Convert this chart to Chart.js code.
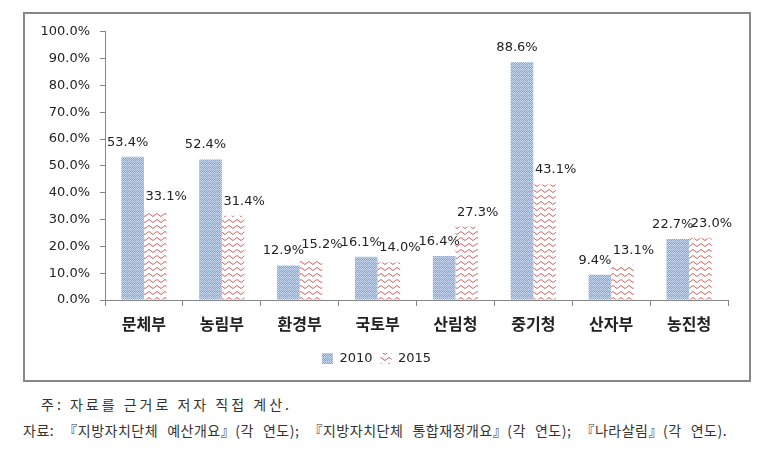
<!DOCTYPE html>
<html>
<head>
<meta charset="utf-8">
<script src="https://cdn.jsdelivr.net/npm/chart.js@4"></script>
<style>
body{margin:0;background:#fff;width:766px;height:456px;position:relative;overflow:hidden}
#box{position:absolute;left:23px;top:12px;width:728px;height:370px;border:2px solid #878787;box-sizing:border-box}
#myChart{display:block}
.note{position:absolute;font-family:"Noto Sans CJK KR";font-size:14px;color:#333;white-space:nowrap;line-height:1}
</style>
</head>
<body>
<div id="box"><canvas id="myChart"></canvas></div>
<div class="note" style="left:41px;top:397px;letter-spacing:3px">주: 자료를 근거로 저자 직접 계산.</div>
<div class="note" style="left:23px;top:423px;letter-spacing:0.5px;word-spacing:5.5px">자료: 『지방자치단체 예산개요』(각 연도); 『지방자치단체 통합재정개요』(각 연도); 『나라살림』(각 연도).</div>
<script>
//-----------------------------------
const categories = ['문체부', '농림부', '환경부', '국토부', '산림청', '중기청', '산자부', '농진청']
const seriesNames = ['2010', '2015']
const values2010 = [53.4, 52.4, 12.9, 16.1, 16.4, 88.6, 9.4, 22.7]
const values2015 = [33.1, 31.4, 15.2, 14.0, 27.3, 43.1, 13.1, 23.0]

const chart = document.getElementById('myChart')
const ctx = chart.getContext('2d')
chart.width = 724
chart.height = 366

const numFont = "'DejaVu Sans', Verdana, sans-serif"

// blue dotted fill for 2010
function dotPattern() {
    const c = document.createElement('canvas')
    c.width = 2; c.height = 4
    const g = c.getContext('2d')
    g.fillStyle = '#c3d5ee'
    g.fillRect(0, 0, 2, 4)
    g.fillStyle = '#7ca4da'
    g.fillRect(0, 0, 1, 1)
    g.fillRect(1, 1, 1, 1)
    g.fillRect(0, 2, 1, 1)
    g.fillStyle = '#a3bfe6'
    g.fillRect(1, 3, 1, 1)
    return ctx.createPattern(c, 'repeat')
}

// red zigzag fill for 2015
function zigzagPattern() {
    const c = document.createElement('canvas')
    c.width = 8; c.height = 6
    const g = c.getContext('2d')
    g.strokeStyle = '#d2605d'
    g.lineWidth = 1
    g.beginPath()
    g.moveTo(0, 4.5); g.lineTo(4, 1.5); g.lineTo(8, 4.5)
    g.stroke()
    return ctx.createPattern(c, 'repeat')
}

const barLabels = {
    id: 'barLabels',
    afterDatasetsDraw(ch) {
        const c = ch.ctx
        c.save()
        c.font = '13px ' + numFont
        c.fillStyle = '#222'
        c.textAlign = 'center'
        c.textBaseline = 'bottom'
        ch.data.datasets.forEach((ds, i) => {
            ch.getDatasetMeta(i).data.forEach((bar, j) => {
                const dx = i === 0 ? -5 : 11
                c.fillText(ds.data[j].toFixed(1) + '%', bar.x + dx, bar.y - 8)
            })
        })
        c.restore()
    }
}

new Chart(ctx, {
    type: 'bar',
    data: {
        labels: categories,
        datasets: [{
            label: seriesNames[0],
            data: values2010,
            backgroundColor: dotPattern(),
            borderWidth: 0
        }, {
            label: seriesNames[1],
            data: values2015,
            backgroundColor: zigzagPattern(),
            borderWidth: 0
        }]
    },
    options: {
        responsive: false,
        animation: false,
        layout: { padding: { top: 16, right: 21, bottom: 5, left: 0 } },
        datasets: { bar: { categoryPercentage: 0.58, barPercentage: 1 } },
        plugins: {
            tooltip: { enabled: false },
            legend: {
                position: 'bottom',
                labels: {
                    boxWidth: 11, boxHeight: 11, padding: 8,
                    font: { family: numFont, size: 13 },
                    color: '#222'
                }
            }
        },
        scales: {
            x: {
                grid: { drawOnChartArea: false, offset: true, tickLength: 6, color: '#878787' },
                border: { color: '#878787' },
                ticks: { font: { family: "'Noto Sans CJK KR'", size: 16, weight: 'bold' }, color: '#222', padding: 8 },
                afterFit(s) { s.height = 44 }
            },
            y: {
                min: 0,
                max: 100,
                ticks: {
                    stepSize: 10,
                    callback: v => v.toFixed(1) + '%',
                    font: { family: numFont, size: 13 },
                    color: '#222',
                    padding: 10
                },
                grid: { drawOnChartArea: false, tickLength: 5, color: '#878787' },
                border: { color: '#878787' },
                afterFit(s) { s.width = 80 }
            }
        }
    },
    plugins: [barLabels]
});
</script>
</body>
</html>
